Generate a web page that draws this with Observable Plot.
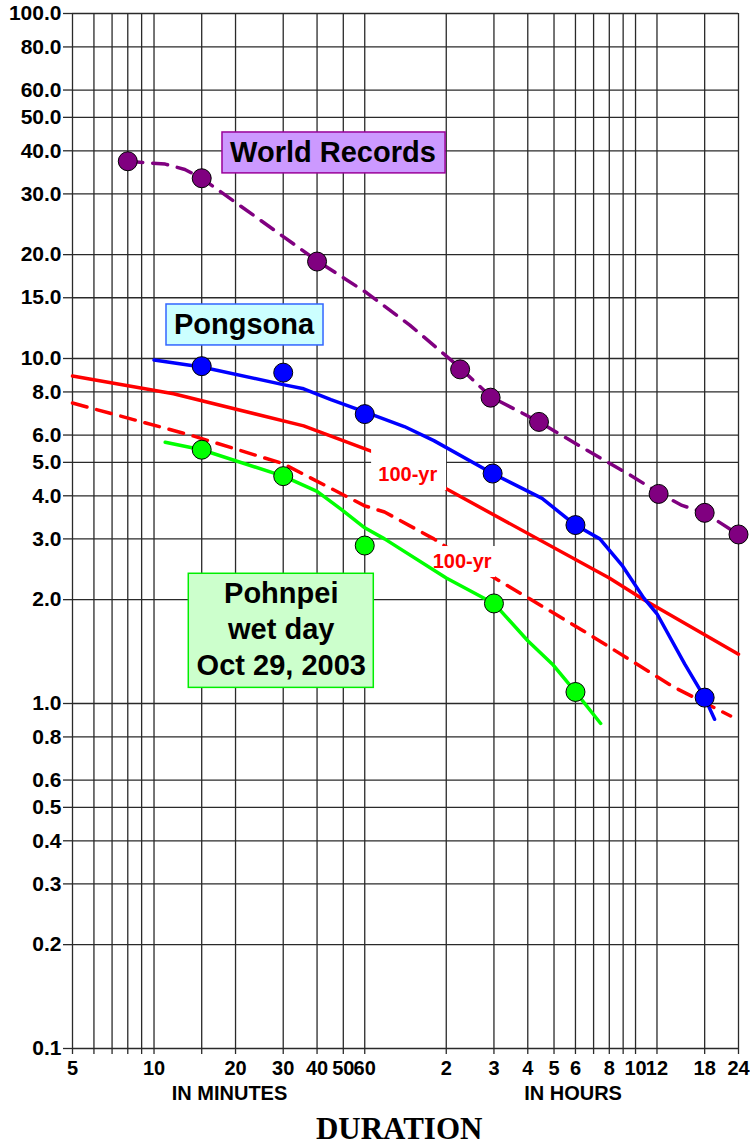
<!DOCTYPE html>
<html>
<head>
<meta charset="utf-8">
<script src="https://cdn.jsdelivr.net/npm/d3@7"></script>
<script src="https://cdn.jsdelivr.net/npm/@observablehq/plot@0.6"></script>
<style>
  html, body { margin: 0; padding: 0; background: #fff; }
</style>
</head>
<body>
<div id="chart"></div>
<script>
// Duration in minutes (x, log) vs rainfall intensity (y, log)
const xGridTicks = [5, 6, 7, 8, 9, 10, 15, 20, 30, 40, 50, 60, 120, 180, 240, 300, 360, 420, 480, 540, 600, 720, 1080, 1440];
const xTickValues = [5, 10, 20, 30, 40, 50, 60, 120, 180, 240, 300, 360, 480, 600, 720, 1080, 1440];
const xTickLabels = ["5", "10", "20", "30", "40", "50", "60", "2", "3", "4", "5", "6", "8", "10", "12", "18", "24"];
const yTickValues = [100, 80, 60, 50, 40, 30, 20, 15, 10, 8, 6, 5, 4, 3, 2, 1, 0.8, 0.6, 0.5, 0.4, 0.3, 0.2, 0.1];

// World Records
const worldDotDur = [8, 15, 40, 135, 175, 264, 730, 1080, 1440];
const worldDotVal = [37.3, 33.3, 19.1, 9.3, 7.7, 6.55, 4.05, 3.57, 3.09];
const worldLineDur = [8, 11, 13, 15, 23, 40, 61, 88, 135, 175, 237, 264, 444, 572, 730, 891, 1080, 1440];
const worldLineVal = [37.3, 36.6, 35.3, 33.3, 26.2, 19.2, 15.5, 12.5, 9.4, 7.75, 6.85, 6.55, 5.15, 4.6, 4.08, 3.75, 3.57, 3.09];

// Pongsona
const pongDotDur = [15, 30, 60, 178, 360, 1080];
const pongDotVal = [9.5, 9.1, 6.9, 4.64, 3.29, 1.04];
const pongLineDur = [10, 15, 30, 35.7, 45, 60, 84, 108, 178, 271, 360, 443, 538, 644, 720, 912, 1080, 1175];
const pongLineVal = [9.9, 9.45, 8.4, 8.17, 7.6, 7.0, 6.35, 5.78, 4.64, 3.93, 3.29, 3.0, 2.5, 2.02, 1.82, 1.3, 1.04, 0.9];

// 100-yr (solid, upper)
const red100Dur = [5, 11.8, 35.7, 67, 120, 480, 644, 1440];
const red100Val = [8.9, 7.9, 6.38, 5.3, 4.19, 2.31, 2.0, 1.39];

// 100-yr (dashed, lower)
const red100bDur = [5, 13.6, 29.9, 60, 71, 108, 178, 387, 823, 1346];
const red100bVal = [7.43, 6.0, 4.96, 3.74, 3.59, 3.0, 2.33, 1.62, 1.12, 0.92];

// Pohnpei wet day Oct 29, 2003
const pohnDotDur = [15, 30, 60, 180, 360];
const pohnDotVal = [5.44, 4.56, 2.87, 1.95, 1.08];
const pohnLineDur = [11, 15, 30, 40, 49, 60, 71, 120, 180, 240, 296, 360, 446];
const pohnLineVal = [5.72, 5.44, 4.56, 4.12, 3.66, 3.23, 3.0, 2.31, 1.95, 1.52, 1.3, 1.08, 0.875];

const rows = (dur, val) => dur.map((d, i) => ({dur: d, val: val[i]}));

const sans = "'Liberation Sans', Arial, Helvetica, sans-serif";
const serif = "'Liberation Serif', 'Times New Roman', Times, serif";
const gridColor = "#2a2a2a";

const chart = Plot.plot({
  width: 750,
  height: 1147,
  marginLeft: 72,
  marginRight: 12,
  marginTop: 13,
  marginBottom: 99,
  style: {fontFamily: sans, background: "#fff", color: "#000"},
  x: {type: "log", domain: [5, 1440], label: null, axis: null},
  y: {type: "log", domain: [0.1, 100], label: null, axis: null},
  marks: [
    Plot.gridY(yTickValues, {stroke: gridColor, strokeOpacity: 1, strokeWidth: 1.3}),
    Plot.gridX(xGridTicks, {stroke: gridColor, strokeOpacity: 1, strokeWidth: 1.3}),
    Plot.axisY(yTickValues, {
      tickSize: 9, tickPadding: 2, stroke: gridColor, strokeWidth: 1.3,
      tickFormat: d => d.toFixed(1), fontSize: 21, fontWeight: "bold", fill: "#000", label: null
    }),
    Plot.axisX(xGridTicks, {tickSize: 6, stroke: gridColor, strokeWidth: 1.3, fill: "none", label: null}),
    Plot.text(xTickValues, {
      x: d => d, text: (d, i) => xTickLabels[i],
      frameAnchor: "bottom", lineAnchor: "middle", dy: 20.5,
      fontSize: 20, fontWeight: "bold", fill: "#000", fontFamily: sans
    }),

    // red 100-yr curves
    Plot.line(rows(red100bDur, red100bVal), {x: "dur", y: "val", stroke: "#ff0000", strokeWidth: 3.5, strokeDasharray: "15,10"}),
    Plot.line(rows(red100Dur, red100Val), {x: "dur", y: "val", stroke: "#ff0000", strokeWidth: 3.5}),

    // white label backgrounds + 100-yr labels
    Plot.rect([0], {x1: 63.6, x2: 120.3, y1: 4.144, y2: 5.596, fill: "#fff"}),
    Plot.rect([0], {x1: 104.1, x2: 182.4, y1: 2.318, y2: 2.851, fill: "#fff"}),
    Plot.text(["100-yr"], {x: 86.5, y: 4.595, fill: "#ff0000", fontSize: 20, fontWeight: "bold", fontFamily: sans}),
    Plot.text(["100-yr"], {x: 137.4, y: 2.583, fill: "#ff0000", fontSize: 20, fontWeight: "bold", fontFamily: sans}),

    // event curves
    Plot.line(rows(pohnLineDur, pohnLineVal), {x: "dur", y: "val", stroke: "#00ff00", strokeWidth: 3.5}),
    Plot.line(rows(pongLineDur, pongLineVal), {x: "dur", y: "val", stroke: "#0000ff", strokeWidth: 3.5}),
    Plot.line(rows(worldLineDur, worldLineVal), {x: "dur", y: "val", stroke: "#800080", strokeWidth: 3.5, strokeDasharray: "15,10"}),

    // observed points
    Plot.dot(rows(worldDotDur, worldDotVal), {x: "dur", y: "val", r: 9.5, fill: "#800080", stroke: "#000", strokeWidth: 1}),
    Plot.dot(rows(pongDotDur, pongDotVal), {x: "dur", y: "val", r: 9.5, fill: "#0000ff", stroke: "#000", strokeWidth: 1}),
    Plot.dot(rows(pohnDotDur, pohnDotVal), {x: "dur", y: "val", r: 9.5, fill: "#00ff00", stroke: "#000", strokeWidth: 1}),

    // legend boxes
    Plot.rect([0], {x1: 17.9, x2: 119.3, y1: 34.4, y2: 45.2, fill: "#cc99ff", stroke: "#990099", strokeWidth: 1.5}),
    Plot.text(["World Records"], {x: 45.8, y: 39.4, fontSize: 29, fontWeight: "bold", fill: "#000", fontFamily: sans}),
    Plot.rect([0], {x1: 11.12, x2: 42.26, y1: 10.91, y2: 14.34, fill: "#ccffff", stroke: "#3366ff", strokeWidth: 1.5}),
    Plot.text(["Pongsona"], {x: 21.5, y: 12.5, fontSize: 29, fontWeight: "bold", fill: "#000", fontFamily: sans}),
    Plot.rect([0], {x1: 13.44, x2: 64.8, y1: 1.11, y2: 2.377, fill: "#ccffcc", stroke: "#00ee00", strokeWidth: 1.5}),
    Plot.text(["Pohnpei\nwet day\nOct 29, 2003"], {x: 29.5, y: 1.662, fontSize: 29, lineHeight: 1.234, fontWeight: "bold", fill: "#000", fontFamily: sans}),

    // axis captions
    Plot.text(["IN MINUTES"], {x: 19, frameAnchor: "bottom", lineAnchor: "middle", dy: 45, fontSize: 20, fontWeight: "bold", fill: "#000", fontFamily: sans}),
    Plot.text(["IN HOURS"], {x: 352.6, frameAnchor: "bottom", lineAnchor: "middle", dy: 45, fontSize: 20, fontWeight: "bold", fill: "#000", fontFamily: sans}),
    Plot.text(["DURATION"], {x: 80.4, frameAnchor: "bottom", lineAnchor: "middle", dy: 81, fontSize: 31, fontWeight: "bold", fill: "#000", fontFamily: serif})
  ]
});
document.getElementById("chart").appendChild(chart);
</script>
</body>
</html>
